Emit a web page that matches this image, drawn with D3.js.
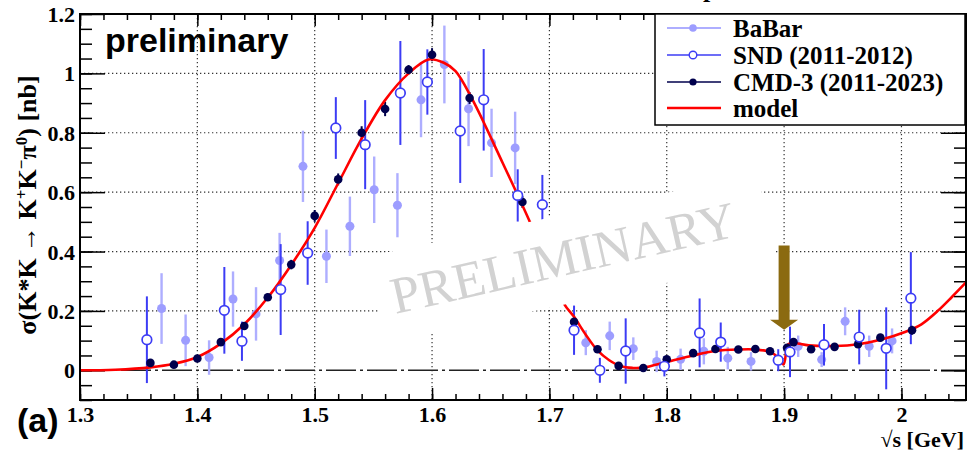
<!DOCTYPE html>
<html>
<head>
<meta charset="utf-8">
<script src="https://cdn.jsdelivr.net/npm/d3@7"></script>
<style>
  html, body { margin: 0; padding: 0; background: #fff; }
  svg { display: block; }
</style>
</head>
<body>
<svg id="chart" width="967" height="451"></svg>
<script>
// ---- data: sigma(e+e- -> K*K -> K+K-pi0), nb, vs sqrt(s), GeV ----
const babarX   = [1.3695,1.390,1.410,1.4304,1.450,1.4701,1.490,1.510,1.530,1.5507,1.5705,1.5906,1.6105,1.6311,1.6507,1.6708,1.731,1.7514,1.7715,1.7914,1.8118,1.8316,1.852,1.8718,1.912,1.932,1.952,1.9725,1.992];
const babarY   = [0.208,0.101,0.043,0.240,0.190,0.370,0.687,0.384,0.485,0.608,0.556,0.911,1.030,0.881,0.766,0.749,0.093,0.116,0.073,0.030,0.037,0.064,0.041,0.030,0.081,0.036,0.165,0.081,0.099];
const babarErr = [0.119,0.087,0.058,0.093,0.090,0.093,0.120,0.090,0.100,0.112,0.108,0.126,0.131,0.126,0.115,0.122,0.042,0.048,0.038,0.036,0.036,0.044,0.038,0.031,0.036,0.025,0.047,0.036,0.042];

const sndX   = [1.357,1.423,1.438,1.471,1.494,1.518,1.543,1.573,1.596,1.624,1.644,1.673,1.694,1.721,1.743,1.765,1.798,1.828,1.846,1.895,1.905,1.934,1.964,1.987,2.008];
const sndY   = [0.103,0.202,0.098,0.272,0.395,0.816,0.760,0.934,0.971,0.806,0.911,0.589,0.558,0.135,0.000,0.065,0.0135,0.126,0.095,0.034,0.062,0.086,0.112,0.074,0.243];
const sndErr = [0.146,0.146,0.066,0.153,0.107,0.104,0.150,0.175,0.110,0.175,0.171,0.088,0.100,0.083,0.042,0.110,0.034,0.116,0.066,0.037,0.085,0.070,0.092,0.138,0.155];

const cmdX   = [1.36,1.38,1.40,1.42,1.44,1.46,1.48,1.50,1.52,1.54,1.56,1.58,1.60,1.632,1.677,1.721,1.741,1.759,1.780,1.800,1.8225,1.8415,1.861,1.8755,1.888,1.9025,1.908,1.923,1.943,1.963,1.982,2.009];
const cmdY   = [0.025,0.019,0.040,0.095,0.149,0.246,0.356,0.520,0.643,0.800,0.880,1.012,1.063,0.917,0.567,0.163,0.071,0.015,0.008,0.037,0.058,0.072,0.070,0.072,0.064,0.076,0.095,0.071,0.079,0.088,0.110,0.135];
const cmdErr = [0.008,0.006,0.008,0.010,0.012,0.012,0.016,0.020,0.020,0.022,0.024,0.016,0.022,0.020,0.020,0.015,0.008,0.005,0.005,0.008,0.008,0.008,0.008,0.010,0.010,0.012,0.012,0.010,0.010,0.010,0.012,0.015];

const modelX = [1.30,1.33,1.36,1.38,1.40,1.42,1.44,1.46,1.48,1.50,1.52,1.54,1.56,1.58,1.597,1.61,1.62,1.634,1.66,1.684,1.698,1.7125,1.721,1.731,1.741,1.751,1.761,1.771,1.78,1.80,1.8225,1.8415,1.861,1.8755,1.888,1.895,1.8995,1.9035,1.908,1.921,1.9435,1.963,1.983,2.003,2.017,2.0315,2.043,2.056];
const modelY = [0.000,0.002,0.010,0.022,0.045,0.090,0.155,0.245,0.355,0.480,0.630,0.780,0.910,1.000,1.047,1.036,1.008,0.915,0.700,0.494,0.360,0.224,0.180,0.120,0.067,0.034,0.0135,0.008,0.009,0.028,0.050,0.065,0.070,0.070,0.062,0.043,0.020,0.088,0.092,0.084,0.082,0.088,0.104,0.129,0.155,0.202,0.247,0.300];

const xTicks = [1.3,1.4,1.5,1.6,1.7,1.8,1.9,2.0];
const xTickLabels = ["1.3","1.4","1.5","1.6","1.7","1.8","1.9","2"];
const yTicks = [0,0.2,0.4,0.6,0.8,1.0,1.2];
const yTickLabels = ["0","0.2","0.4","0.6","0.8","1","1.2"];

const legendLabels = ["BaBar","SND (2011-2012)","CMD-3 (2011-2023)","model"];
const markerEnergy = 1.9;   // position of the arrow
// --------------------------------------------------------------

const svg = d3.select("#chart");
const L = 80, R = 966, T = 14, B = 400;
const x = d3.scaleLinear().domain([1.3, 2.055]).range([L, R]);
const y = d3.scaleLinear().domain([-0.1, 1.2]).range([B, T]);

const serif = "'Liberation Serif','Times New Roman',serif";
const sans  = "'Liberation Sans',Arial,Helvetica,sans-serif";

const C_BABAR = "#9d9dff", C_BABAR_BAR = "#aeaeff";
const C_SND = "#3c3cf5";
const C_CMD = "#00004d";
const C_MODEL = "#ff0000";

svg.append("defs").append("clipPath").attr("id","plotclip")
  .append("rect").attr("x", L).attr("y", T).attr("width", R - L).attr("height", B - T);

// grid
const grid = svg.append("g");
grid.selectAll("line.gx").data(xTicks.slice(1)).join("line")
  .attr("x1", d => x(d)).attr("x2", d => x(d)).attr("y1", T).attr("y2", B)
  .attr("stroke", "#333").attr("stroke-width", 1.2).attr("stroke-dasharray", "1.3,2.7");
grid.selectAll("line.gy").data(yTicks.filter(v => v > 0 && v < 1.2)).join("line")
  .attr("x1", L).attr("x2", R).attr("y1", d => y(d)).attr("y2", d => y(d))
  .attr("stroke", "#333").attr("stroke-width", 1.2).attr("stroke-dasharray", "1.3,2.7");
// zero line
grid.append("line").attr("x1", L).attr("x2", R).attr("y1", y(0)).attr("y2", y(0))
  .attr("stroke", "#222").attr("stroke-width", 1.6).attr("stroke-dasharray", "30,4,3,4");

// axes ticks (inward) on all four sides
function minorValues(lo, hi, step) {
  const out = [];
  for (let v = lo; v <= hi + 1e-9; v += step) out.push(+v.toFixed(4));
  return out;
}
const xMinor = minorValues(1.3, 2.055, 0.02);
const yMinor = minorValues(-0.1, 1.2, 0.05);

const axesG = svg.append("g").attr("font-family", serif);

const bottomMinor = d3.axisBottom(x).tickValues(xMinor).tickSize(-6).tickFormat("");
const bottomMajor = d3.axisBottom(x).tickValues(xTicks).tickSize(-12).tickPadding(6)
  .tickFormat((d, i) => xTickLabels[i]);
const topMinor = d3.axisTop(x).tickValues(xMinor).tickSize(-6).tickFormat("");
const topMajor = d3.axisTop(x).tickValues(xTicks).tickSize(-12).tickFormat("");
const leftMinor = d3.axisLeft(y).tickValues(yMinor).tickSize(-12).tickFormat("");
const leftMajor = d3.axisLeft(y).tickValues(yTicks).tickSize(-25).tickPadding(5)
  .tickFormat((d, i) => yTickLabels[i]);
const rightMinor = d3.axisRight(y).tickValues(yMinor).tickSize(-12).tickFormat("");
const rightMajor = d3.axisRight(y).tickValues(yTicks).tickSize(-25).tickFormat("");

function place(gen, tx, ty) {
  const g = axesG.append("g").attr("transform", `translate(${tx},${ty})`).call(gen);
  g.select(".domain").remove();
  g.selectAll(".tick line").attr("stroke", "#000").attr("stroke-width", 1.5);
  g.selectAll(".tick text").attr("font-family", serif).attr("font-weight", "bold")
    .attr("font-size", 22).attr("fill", "#000");
  return g;
}
place(bottomMinor, 0, B);
const bm = place(bottomMajor, 0, B);
bm.selectAll(".tick text").attr("dy", "0.71em");
place(topMinor, 0, T);
place(topMajor, 0, T);
place(leftMinor, L, 0);
const lm = place(leftMajor, L, 0);
lm.selectAll(".tick text").attr("dy", "0.34em");
place(rightMinor, R, 0);
place(rightMajor, R, 0);

// data
const plot = svg.append("g").attr("clip-path", "url(#plotclip)");

function errorBars(xs, ys, es, color, width) {
  plot.append("g").selectAll("line").data(xs.map((v, i) => [v, ys[i], es[i]])).join("line")
    .attr("x1", d => x(d[0])).attr("x2", d => x(d[0]))
    .attr("y1", d => y(d[1] - d[2])).attr("y2", d => y(d[1] + d[2]))
    .attr("stroke", color).attr("stroke-width", width);
}
errorBars(babarX, babarY, babarErr, C_BABAR_BAR, 2.4);
plot.append("g").selectAll("circle").data(babarX.map((v, i) => [v, babarY[i]])).join("circle")
  .attr("cx", d => x(d[0])).attr("cy", d => y(d[1])).attr("r", 4.5).attr("fill", C_BABAR);

errorBars(sndX, sndY, sndErr, C_SND, 2);
errorBars(cmdX, cmdY, cmdErr, C_CMD, 2);

// model curve
const line = d3.line().x(d => x(d[0])).y(d => y(d[1])).curve(d3.curveCatmullRom.alpha(0.5));
plot.append("path").datum(modelX.map((v, i) => [v, modelY[i]]))
  .attr("d", line).attr("fill", "none").attr("stroke", C_MODEL).attr("stroke-width", 2.6);

plot.append("g").selectAll("circle").data(cmdX.map((v, i) => [v, cmdY[i]])).join("circle")
  .attr("cx", d => x(d[0])).attr("cy", d => y(d[1])).attr("r", 4.3).attr("fill", C_CMD);

plot.append("g").selectAll("circle").data(sndX.map((v, i) => [v, sndY[i]])).join("circle")
  .attr("cx", d => x(d[0])).attr("cy", d => y(d[1])).attr("r", 4.8)
  .attr("fill", "#fff").attr("stroke", C_SND).attr("stroke-width", 1.7);

// watermark on a white band
const wm = svg.append("g");
wm.append("rect").attr("transform", "translate(572,258) rotate(-12)")
  .attr("x", -199).attr("y", -44).attr("width", 398).attr("height", 88).attr("fill", "#fff");
wm.append("text").attr("transform", "translate(567,275) rotate(-12.8)")
  .attr("text-anchor", "middle").attr("font-family", serif).attr("font-size", 52)
  .attr("fill", "#d2d2d2").text("PRELIMINARY");

// arrow at the marked energy
const ax = x(markerEnergy);
svg.append("path")
  .attr("d", `M${ax - 5.5},${y(0.42)} L${ax + 5.5},${y(0.42)} L${ax + 5.5},${y(0.17)} L${ax + 14},${y(0.17)}
              L${ax},${y(0.137)} L${ax - 14},${y(0.17)} L${ax - 5.5},${y(0.17)} Z`)
  .attr("fill", "#8b6a10");

// frame
svg.append("rect").attr("x", L).attr("y", T).attr("width", R - L).attr("height", B - T)
  .attr("fill", "none").attr("stroke", "#000").attr("stroke-width", 2);

// legend
const lg = svg.append("g");
lg.append("rect").attr("x", 655).attr("y", 14).attr("width", 310).attr("height", 111)
  .attr("fill", "#fff").attr("stroke", "#000").attr("stroke-width", 1.5);
const rows = [28, 55, 82, 108];
const lx1 = 667, lx2 = 721, lmx = 693;
lg.append("line").attr("x1", lx1).attr("x2", lx2).attr("y1", rows[0]).attr("y2", rows[0])
  .attr("stroke", C_BABAR_BAR).attr("stroke-width", 2);
lg.append("circle").attr("cx", lmx).attr("cy", rows[0]).attr("r", 3.8).attr("fill", C_BABAR);
lg.append("line").attr("x1", lx1).attr("x2", lx2).attr("y1", rows[1]).attr("y2", rows[1])
  .attr("stroke", C_SND).attr("stroke-width", 1.5);
lg.append("circle").attr("cx", lmx).attr("cy", rows[1]).attr("r", 3.8)
  .attr("fill", "#fff").attr("stroke", C_SND).attr("stroke-width", 1.4);
lg.append("line").attr("x1", lx1).attr("x2", lx2).attr("y1", rows[2]).attr("y2", rows[2])
  .attr("stroke", C_CMD).attr("stroke-width", 1.5);
lg.append("circle").attr("cx", lmx).attr("cy", rows[2]).attr("r", 3.6).attr("fill", C_CMD);
lg.append("line").attr("x1", lx1).attr("x2", lx2).attr("y1", rows[3]).attr("y2", rows[3])
  .attr("stroke", C_MODEL).attr("stroke-width", 2.6);
lg.selectAll("text").data(legendLabels).join("text")
  .attr("x", 733).attr("y", (d, i) => rows[i] + 9)
  .attr("font-family", serif).attr("font-weight", "bold").attr("font-size", 25)
  .text(d => d);

// labels
svg.append("text").attr("x", 105).attr("y", 52).attr("font-family", sans)
  .attr("font-weight", "bold").attr("font-size", 34).text("preliminary");
svg.append("text").attr("x", 17).attr("y", 432).attr("font-family", sans)
  .attr("font-weight", "bold").attr("font-size", 34).text("(a)");
svg.append("text").attr("x", 964).attr("y", 447).attr("text-anchor", "end")
  .attr("font-family", serif).attr("font-weight", "bold").attr("font-size", 22)
  .text("\u221As [GeV]");
// fragment of the heading above the frame
svg.append("text").attr("x", 703).attr("y", -3).attr("font-family", serif)
  .attr("font-weight", "bold").attr("font-size", 26).text("p");

// y-axis title
const yt = svg.append("text").attr("transform", "translate(36,205) rotate(-90)")
  .attr("text-anchor", "middle").attr("font-family", serif).attr("font-weight", "bold")
  .attr("font-size", 26);
yt.append("tspan").text("\u03C3(K*K  \u2192 K");
yt.append("tspan").attr("baseline-shift", "super").attr("font-size", 17).text("+");
yt.append("tspan").text("K");
yt.append("tspan").attr("baseline-shift", "super").attr("font-size", 17).text("\u2212");
yt.append("tspan").text("\u03C0");
yt.append("tspan").attr("baseline-shift", "super").attr("font-size", 17).text("0");
yt.append("tspan").text(") [nb]");
</script>
</body>
</html>
